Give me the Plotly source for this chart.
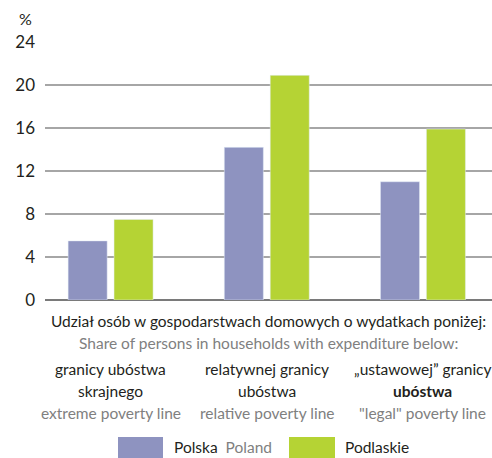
import plotly.graph_objects as go

# Data
categories = ["skrajna", "relatywna", "ustawowa"]
polska = [5.5, 14.2, 11.0]
podlaskie = [7.5, 20.9, 15.9]
y_ticks = [0, 4, 8, 12, 16, 20, 24]

cat_line1 = ["granicy ubóstwa", "relatywnej granicy", "„ustawowej” granicy"]
cat_line2 = ["skrajnego", "ubóstwa", "<b>ubóstwa</b>"]
cat_labels_en = ["extreme poverty line", "relative poverty line", "\"legal\" poverty line"]

header_pl = "Udział osób w gospodarstwach domowych o wydatkach poniżej:"
header_en = "Share of persons in households with expenditure below:"
series_names = ["Polska", "Podlaskie"]

FONT = "Lato, sans-serif"
FS = 15.5
DARK = "#231f20"
GREY = "#808080"
C_PL = "#8e93c0"
C_PD = "#b5d334"

fig = go.Figure()
fig.add_trace(go.Bar(x=categories, y=polska, name=series_names[0], marker_color=C_PL,
                     width=0.25, offset=-0.272, showlegend=False))
fig.add_trace(go.Bar(x=categories, y=podlaskie, name=series_names[1], marker_color=C_PD,
                     width=0.25, offset=0.022, showlegend=False))


def label(text, x, yshift, color=DARK, xref="paper", xanchor="center", yanchor="top"):
    return dict(text=text, xref=xref, yref="paper", x=x, y=0, xanchor=xanchor,
                yanchor=yanchor, yshift=yshift, showarrow=False,
                font=dict(family=FONT, size=FS, color=color))


annotations = []
# "%" unit label
annotations.append(dict(text="%", xref="paper", yref="paper", x=0, y=1, xanchor="right",
                        yanchor="bottom", xshift=-11, yshift=12, showarrow=False,
                        font=dict(family=FONT, size=16, color=DARK)))
# header lines
annotations.append(label(header_pl, 0.5, -10))
annotations.append(label(header_en, 0.5, -32, GREY))
# category labels, one line each
for cat, l1, l2, en in zip(categories, cat_line1, cat_line2, cat_labels_en):
    annotations.append(label(l1, cat, -58, xref="x"))
    annotations.append(label(l2, cat, -80, xref="x"))
    annotations.append(label(en, cat, -102, GREY, xref="x"))
# legend labels
annotations.append(label(f"Polska  <span style='color:{GREY}'>Poland</span>", (172 - 45) / 447,
                         -147, xanchor="left", yanchor="middle"))
annotations.append(label("Podlaskie", (343 - 45) / 447, -147, xanchor="left", yanchor="middle"))

# legend swatches
shapes = [
    dict(type="rect", xref="paper", yref="paper", x0=(118 - 45) / 447, x1=(163 - 45) / 447,
         y0=-158 / 258, y1=-137 / 258, fillcolor=C_PL, line_width=0),
    dict(type="rect", xref="paper", yref="paper", x0=(289 - 45) / 447, x1=(335 - 45) / 447,
         y0=-158 / 258, y1=-137 / 258, fillcolor=C_PD, line_width=0),
]

fig.update_layout(
    width=492, height=458,
    margin=dict(l=45, r=0, t=42, b=158),
    paper_bgcolor="white", plot_bgcolor="white",
    barmode="group",
    font=dict(family=FONT, color=DARK),
    annotations=annotations,
    shapes=shapes,
    xaxis=dict(range=[-0.42, 2.442], showticklabels=False, showgrid=False, zeroline=False,
               showline=False, fixedrange=True),
    yaxis=dict(range=[0, 24], tickvals=y_ticks, showgrid=True, gridcolor="#a6a6a6", gridwidth=1.5,
               zeroline=True, zerolinecolor="#7a7a7a", zerolinewidth=2, showline=False,
               ticklabelstandoff=9, tickfont=dict(family=FONT, size=17, color=DARK)),
)

# drop the browser's default 8px body margin so the figure sits at the page corner
fig.write_html("out.html", config={"displayModeBar": False},
               post_script="document.body.style.margin='0';")
